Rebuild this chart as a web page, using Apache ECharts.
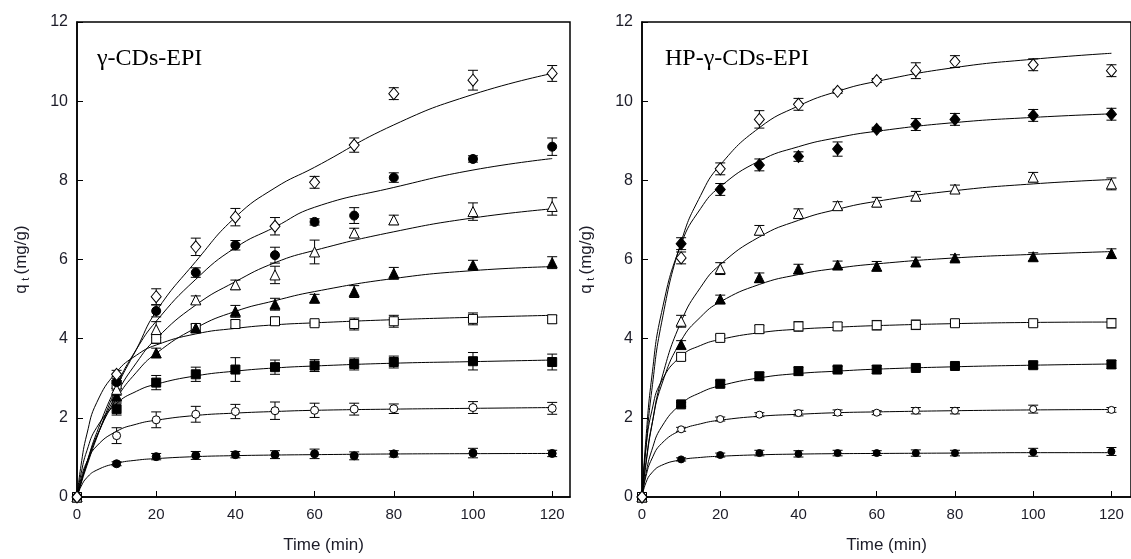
<!DOCTYPE html>
<html>
<head>
<meta charset="utf-8">
<script src="https://cdn.jsdelivr.net/npm/echarts@6/dist/echarts.min.js"></script>
<style>
  html, body { margin: 0; padding: 0; background: #fff; }
  #chart { width: 1131px; height: 559px; }
</style>
</head>
<body>
<div id="chart"></div>
<script>
// Sampling times (min) of the measured points
const times = [0, 10, 20, 30, 40, 50, 60, 70, 80, 100, 120];
// Times at which the fitted kinetic curves are listed
const fitTimes = [0, 1, 2.5, 5, 10, 15, 20, 30, 40, 50, 60, 80, 100, 120];
const xTicks = [0, 20, 40, 60, 80, 100, 120];
const yTicks = [0, 2, 4, 6, 8, 10, 12];

// ---- γ-CDs-EPI: measured q_t (mg/g), error bars and fitted curves ----
const gOpenDiamond = [0, 3.10, 5.06, 6.32, 7.07, 6.84, 7.95, 8.89, 10.19, 10.53, 10.70];
const gOpenDiamondErr = [0, 0.10, 0.20, 0.22, 0.22, 0.22, 0.15, 0.18, 0.15, 0.25, 0.20];
const gOpenDiamondFit = [0, 0.33, 0.79, 1.50, 2.76, 3.73, 4.69, 5.95, 7.07, 7.81, 8.33, 9.40, 10.17, 10.70];

const gFilledCircle = [0, 2.90, 4.70, 5.67, 6.36, 6.11, 6.95, 7.11, 8.07, 8.54, 8.85];
const gFilledCircleErr = [0, 0.15, 0.15, 0.12, 0.12, 0.20, 0.08, 0.20, 0.12, 0.08, 0.22];
const gFilledCircleFit = [0, 0.37, 0.88, 1.63, 2.82, 3.73, 4.44, 5.50, 6.30, 6.82, 7.32, 7.82, 8.26, 8.55];

const gOpenTriangle = [0, 2.72, 4.23, 4.98, 5.36, 5.61, 6.19, 6.67, 7.00, 7.21, 7.34];
const gOpenTriangleErr = [0, 0.15, 0.20, 0.10, 0.12, 0.22, 0.30, 0.12, 0.12, 0.22, 0.22];
const gOpenTriangleFit = [0, 0.36, 0.84, 1.53, 2.60, 3.39, 4.00, 4.85, 5.44, 5.92, 6.23, 6.70, 7.05, 7.28];

const gFilledTriangle = [0, 2.55, 3.64, 4.27, 4.69, 4.87, 5.02, 5.19, 5.65, 5.86, 5.92];
const gFilledTriangleErr = [0, 0.15, 0.12, 0.10, 0.15, 0.15, 0.10, 0.15, 0.15, 0.12, 0.15];
const gFilledTriangleFit = [0, 0.38, 0.87, 1.54, 2.49, 3.15, 3.63, 4.27, 4.69, 4.96, 5.19, 5.52, 5.72, 5.82];

const gOpenSquare = [0, 2.84, 4.00, 4.27, 4.37, 4.44, 4.39, 4.37, 4.44, 4.50, 4.49];
const gOpenSquareErr = [0, 0.10, 0.12, 0.10, 0.10, 0.10, 0.05, 0.15, 0.15, 0.15, 0.10];
const gOpenSquareFit = [0, 0.79, 1.59, 2.39, 3.16, 3.58, 3.84, 4.12, 4.26, 4.35, 4.40, 4.48, 4.54, 4.59];

const gFilledSquare = [0, 2.22, 2.89, 3.10, 3.22, 3.28, 3.32, 3.36, 3.41, 3.43, 3.41];
const gFilledSquareErr = [0, 0.15, 0.18, 0.18, 0.30, 0.18, 0.15, 0.15, 0.15, 0.22, 0.20];
const gFilledSquareFit = [0, 0.58, 1.17, 1.76, 2.36, 2.67, 2.85, 3.06, 3.18, 3.26, 3.31, 3.38, 3.42, 3.46];

const gOpenCircle = [0, 1.55, 1.95, 2.09, 2.16, 2.18, 2.19, 2.22, 2.23, 2.26, 2.24];
const gOpenCircleErr = [0, 0.20, 0.20, 0.20, 0.18, 0.22, 0.18, 0.15, 0.12, 0.15, 0.15];
const gOpenCircleFit = [0, 0.46, 0.89, 1.29, 1.66, 1.84, 1.94, 2.06, 2.12, 2.16, 2.19, 2.22, 2.24, 2.26];

const gFilledDot = [0, 0.84, 1.02, 1.05, 1.07, 1.07, 1.09, 1.04, 1.09, 1.11, 1.10];
const gFilledDotErr = [0, 0.05, 0.08, 0.10, 0.08, 0.10, 0.12, 0.10, 0.08, 0.12, 0.08];
const gFilledDotFit = [0, 0.26, 0.49, 0.68, 0.85, 0.93, 0.97, 1.02, 1.045, 1.06, 1.07, 1.087, 1.095, 1.10];

// ---- HP-γ-CDs-EPI ----
const hOpenDiamond = [0, 6.04, 8.29, 9.54, 9.92, 10.25, 10.52, 10.77, 11.00, 10.92, 10.77];
const hOpenDiamondErr = [0, 0.15, 0.15, 0.22, 0.15, 0.05, 0.05, 0.20, 0.15, 0.15, 0.15];
const hOpenDiamondFit = [0, 1.25, 2.69, 4.40, 6.44, 7.62, 8.39, 9.33, 9.88, 10.25, 10.50, 10.85, 11.06, 11.21];

const hFilledDiamond = [0, 6.40, 7.77, 8.39, 8.60, 8.79, 9.29, 9.41, 9.54, 9.64, 9.67];
const hFilledDiamondErr = [0, 0.15, 0.15, 0.15, 0.12, 0.18, 0.05, 0.15, 0.15, 0.15, 0.15];
const hFilledDiamondFit = [0, 1.47, 3.03, 4.66, 6.39, 7.29, 7.84, 8.49, 8.85, 9.08, 9.24, 9.46, 9.59, 9.68];

const hOpenTriangle = [0, 4.44, 5.77, 6.74, 7.16, 7.36, 7.45, 7.60, 7.78, 8.08, 7.91];
const hOpenTriangleErr = [0, 0.15, 0.15, 0.12, 0.12, 0.10, 0.12, 0.12, 0.10, 0.12, 0.15];
const hOpenTriangleFit = [0, 0.82, 1.80, 2.98, 4.43, 5.30, 5.87, 6.57, 6.99, 7.27, 7.47, 7.74, 7.91, 8.02];

const hFilledTriangle = [0, 3.85, 5.00, 5.54, 5.76, 5.86, 5.83, 5.94, 6.04, 6.07, 6.15];
const hFilledTriangleErr = [0, 0.10, 0.10, 0.12, 0.12, 0.10, 0.12, 0.12, 0.08, 0.10, 0.12];
const hFilledTriangleFit = [0, 0.87, 1.81, 2.83, 3.95, 4.55, 4.93, 5.37, 5.62, 5.78, 5.89, 6.04, 6.13, 6.20];

const hOpenSquare = [0, 3.54, 4.02, 4.24, 4.31, 4.31, 4.34, 4.35, 4.39, 4.39, 4.39];
const hOpenSquareErr = [0, 0.08, 0.07, 0.10, 0.12, 0.10, 0.12, 0.12, 0.08, 0.07, 0.12];
const hOpenSquareFit = [0, 1.22, 2.17, 2.93, 3.56, 3.83, 3.98, 4.15, 4.24, 4.29, 4.33, 4.38, 4.41, 4.42];

const hFilledSquare = [0, 2.34, 2.86, 3.05, 3.18, 3.22, 3.22, 3.26, 3.31, 3.33, 3.35];
const hFilledSquareErr = [0, 0.05, 0.08, 0.10, 0.10, 0.08, 0.10, 0.05, 0.05, 0.08, 0.10];
const hFilledSquareFit = [0, 0.59, 1.18, 1.77, 2.35, 2.64, 2.81, 3.01, 3.12, 3.18, 3.23, 3.29, 3.33, 3.36];

const hOpenCircle = [0, 1.71, 1.97, 2.08, 2.12, 2.13, 2.13, 2.18, 2.18, 2.22, 2.20];
const hOpenCircleErr = [0, 0.05, 0.05, 0.05, 0.07, 0.07, 0.05, 0.08, 0.08, 0.10, 0.06];
const hOpenCircleFit = [0, 0.52, 0.96, 1.35, 1.69, 1.85, 1.94, 2.04, 2.09, 2.13, 2.15, 2.18, 2.20, 2.21];

const hFilledDot = [0, 0.95, 1.06, 1.11, 1.09, 1.11, 1.11, 1.11, 1.11, 1.13, 1.15];
const hFilledDotErr = [0, 0.04, 0.05, 0.07, 0.08, 0.07, 0.06, 0.08, 0.07, 0.10, 0.10];
const hFilledDotFit = [0, 0.36, 0.61, 0.80, 0.94, 1.00, 1.03, 1.066, 1.084, 1.095, 1.10, 1.11, 1.12, 1.12];

const SANS = "'Liberation Sans', Arial, sans-serif";
const SERIF = "'Liberation Serif', 'Times New Roman', serif";
const INK = '#000';
const LABEL = '#1c1c28';

// Each data set: values, errors, fitted curve, marker symbol, filled?, marker size
const gSets = [
  [gOpenDiamond, gOpenDiamondErr, gOpenDiamondFit, 'diamond', false, [10, 12]],
  [gFilledCircle, gFilledCircleErr, gFilledCircleFit, 'circle', true, 9],
  [gOpenTriangle, gOpenTriangleErr, gOpenTriangleFit, 'triangle', false, 10],
  [gFilledTriangle, gFilledTriangleErr, gFilledTriangleFit, 'triangle', true, 10],
  [gOpenSquare, gOpenSquareErr, gOpenSquareFit, 'rect', false, 9],
  [gFilledSquare, gFilledSquareErr, gFilledSquareFit, 'rect', true, 9],
  [gOpenCircle, gOpenCircleErr, gOpenCircleFit, 'circle', false, 8],
  [gFilledDot, gFilledDotErr, gFilledDotFit, 'circle', true, 8]
];
const hSets = [
  [hOpenDiamond, hOpenDiamondErr, hOpenDiamondFit, 'diamond', false, [10, 12]],
  [hFilledDiamond, hFilledDiamondErr, hFilledDiamondFit, 'diamond', true, [10, 12]],
  [hOpenTriangle, hOpenTriangleErr, hOpenTriangleFit, 'triangle', false, 10],
  [hFilledTriangle, hFilledTriangleErr, hFilledTriangleFit, 'triangle', true, 10],
  [hOpenSquare, hOpenSquareErr, hOpenSquareFit, 'rect', false, 9],
  [hFilledSquare, hFilledSquareErr, hFilledSquareFit, 'rect', true, 9],
  [hOpenCircle, hOpenCircleErr, hOpenCircleFit, 'circle', false, 7],
  [hFilledDot, hFilledDotErr, hFilledDotFit, 'circle', true, 7]
];

function errorBarItem(params, api) {
  const x = api.value(0), y = api.value(1), e = api.value(2);
  const top = api.coord([x, y + e]);
  const bot = api.coord([x, y - e]);
  const hw = 5;
  const st = { stroke: INK, lineWidth: 1 };
  return {
    type: 'group',
    children: [
      { type: 'line', shape: { x1: top[0], y1: top[1], x2: bot[0], y2: bot[1] }, style: st },
      { type: 'line', shape: { x1: top[0] - hw, y1: top[1], x2: top[0] + hw, y2: top[1] }, style: st },
      { type: 'line', shape: { x1: bot[0] - hw, y1: bot[1], x2: bot[0] + hw, y2: bot[1] }, style: st }
    ]
  };
}

function panelSeries(idx, sets) {
  const curves = [], bars = [], marks = [];
  sets.forEach(([vals, err, fit, symbol, filled, size]) => {
    curves.push({
      type: 'line', xAxisIndex: idx, yAxisIndex: idx,
      data: fitTimes.map((t, k) => [t, fit[k]]),
      showSymbol: false, smooth: 0.5,
      lineStyle: { color: INK, width: 1 }, silent: true, z: 2
    });
    bars.push({
      type: 'custom', xAxisIndex: idx, yAxisIndex: idx,
      data: times.map((t, k) => [t, vals[k], err[k]]).filter(d => d[2] > 0),
      encode: { x: 0, y: 1 },
      renderItem: errorBarItem, silent: true, z: 3
    });
    marks.push({
      type: 'scatter', xAxisIndex: idx, yAxisIndex: idx,
      data: times.map((t, k) => [t, vals[k]]),
      symbol: symbol, symbolSize: size,
      itemStyle: { color: filled ? INK : '#fff', borderColor: INK, borderWidth: 1, opacity: 1 },
      silent: true, z: 4
    });
  });
  // markers of the first set end up on top
  return curves.concat(bars, marks.reverse());
}

function xAxisFor(idx, max) {
  return {
    type: 'value', gridIndex: idx, min: 0, max: max, interval: 20,
    axisLine: { show: true, onZero: false, lineStyle: { color: INK, width: 1.5 } },
    axisTick: { show: true, inside: true, length: 6, customValues: xTicks, lineStyle: { color: INK, width: 1 } },
    axisLabel: { customValues: xTicks, fontFamily: SANS, fontSize: 15, color: LABEL, margin: 10 },
    splitLine: { show: false },
    name: 'Time (min)', nameLocation: 'middle', nameGap: 40,
    nameTextStyle: { fontFamily: SANS, fontSize: 17, color: LABEL }
  };
}

function yAxisFor(idx) {
  return {
    type: 'value', gridIndex: idx, min: 0, max: 12, interval: 2,
    axisLine: { show: true, onZero: false, lineStyle: { color: INK, width: 1.5 } },
    axisTick: { show: true, inside: true, length: 6, customValues: yTicks, lineStyle: { color: INK, width: 1 } },
    axisLabel: { customValues: yTicks, fontFamily: SANS, fontSize: 16, color: LABEL, margin: 9 },
    splitLine: { show: false },
    name: '{m|q} {s|t} {m|(mg/g)}', nameLocation: 'middle', nameGap: 46, nameRotate: 90,
    nameTextStyle: {
      fontFamily: SANS, color: LABEL,
      rich: {
        m: { fontFamily: SANS, fontSize: 17, color: LABEL },
        s: { fontFamily: SANS, fontSize: 11, color: LABEL, padding: [9, 0, 0, 0] }
      }
    }
  };
}

const chart = echarts.init(document.getElementById('chart'), null, { renderer: 'canvas' });
chart.setOption({
  backgroundColor: '#fff',
  animation: false,
  grid: [
    { left: 77, top: 22, width: 493, height: 478, show: true, borderColor: INK, borderWidth: 1.5, backgroundColor: 'transparent' },
    { left: 642, top: 22, width: 492, height: 478, show: true, borderColor: INK, borderWidth: 1.5, backgroundColor: 'transparent' }
  ],
  xAxis: [xAxisFor(0, 124.5), xAxisFor(1, 125)],
  yAxis: [yAxisFor(0), yAxisFor(1)],
  graphic: [
    { type: 'text', left: 97, top: 47, style: { text: 'γ-CDs-EPI', font: '24px ' + SERIF, fill: INK } },
    { type: 'text', left: 665, top: 47, style: { text: 'HP-γ-CDs-EPI', font: '24px ' + SERIF, fill: INK } }
  ],
  series: panelSeries(0, gSets).concat(panelSeries(1, hSets))
});
</script>
</body>
</html>
